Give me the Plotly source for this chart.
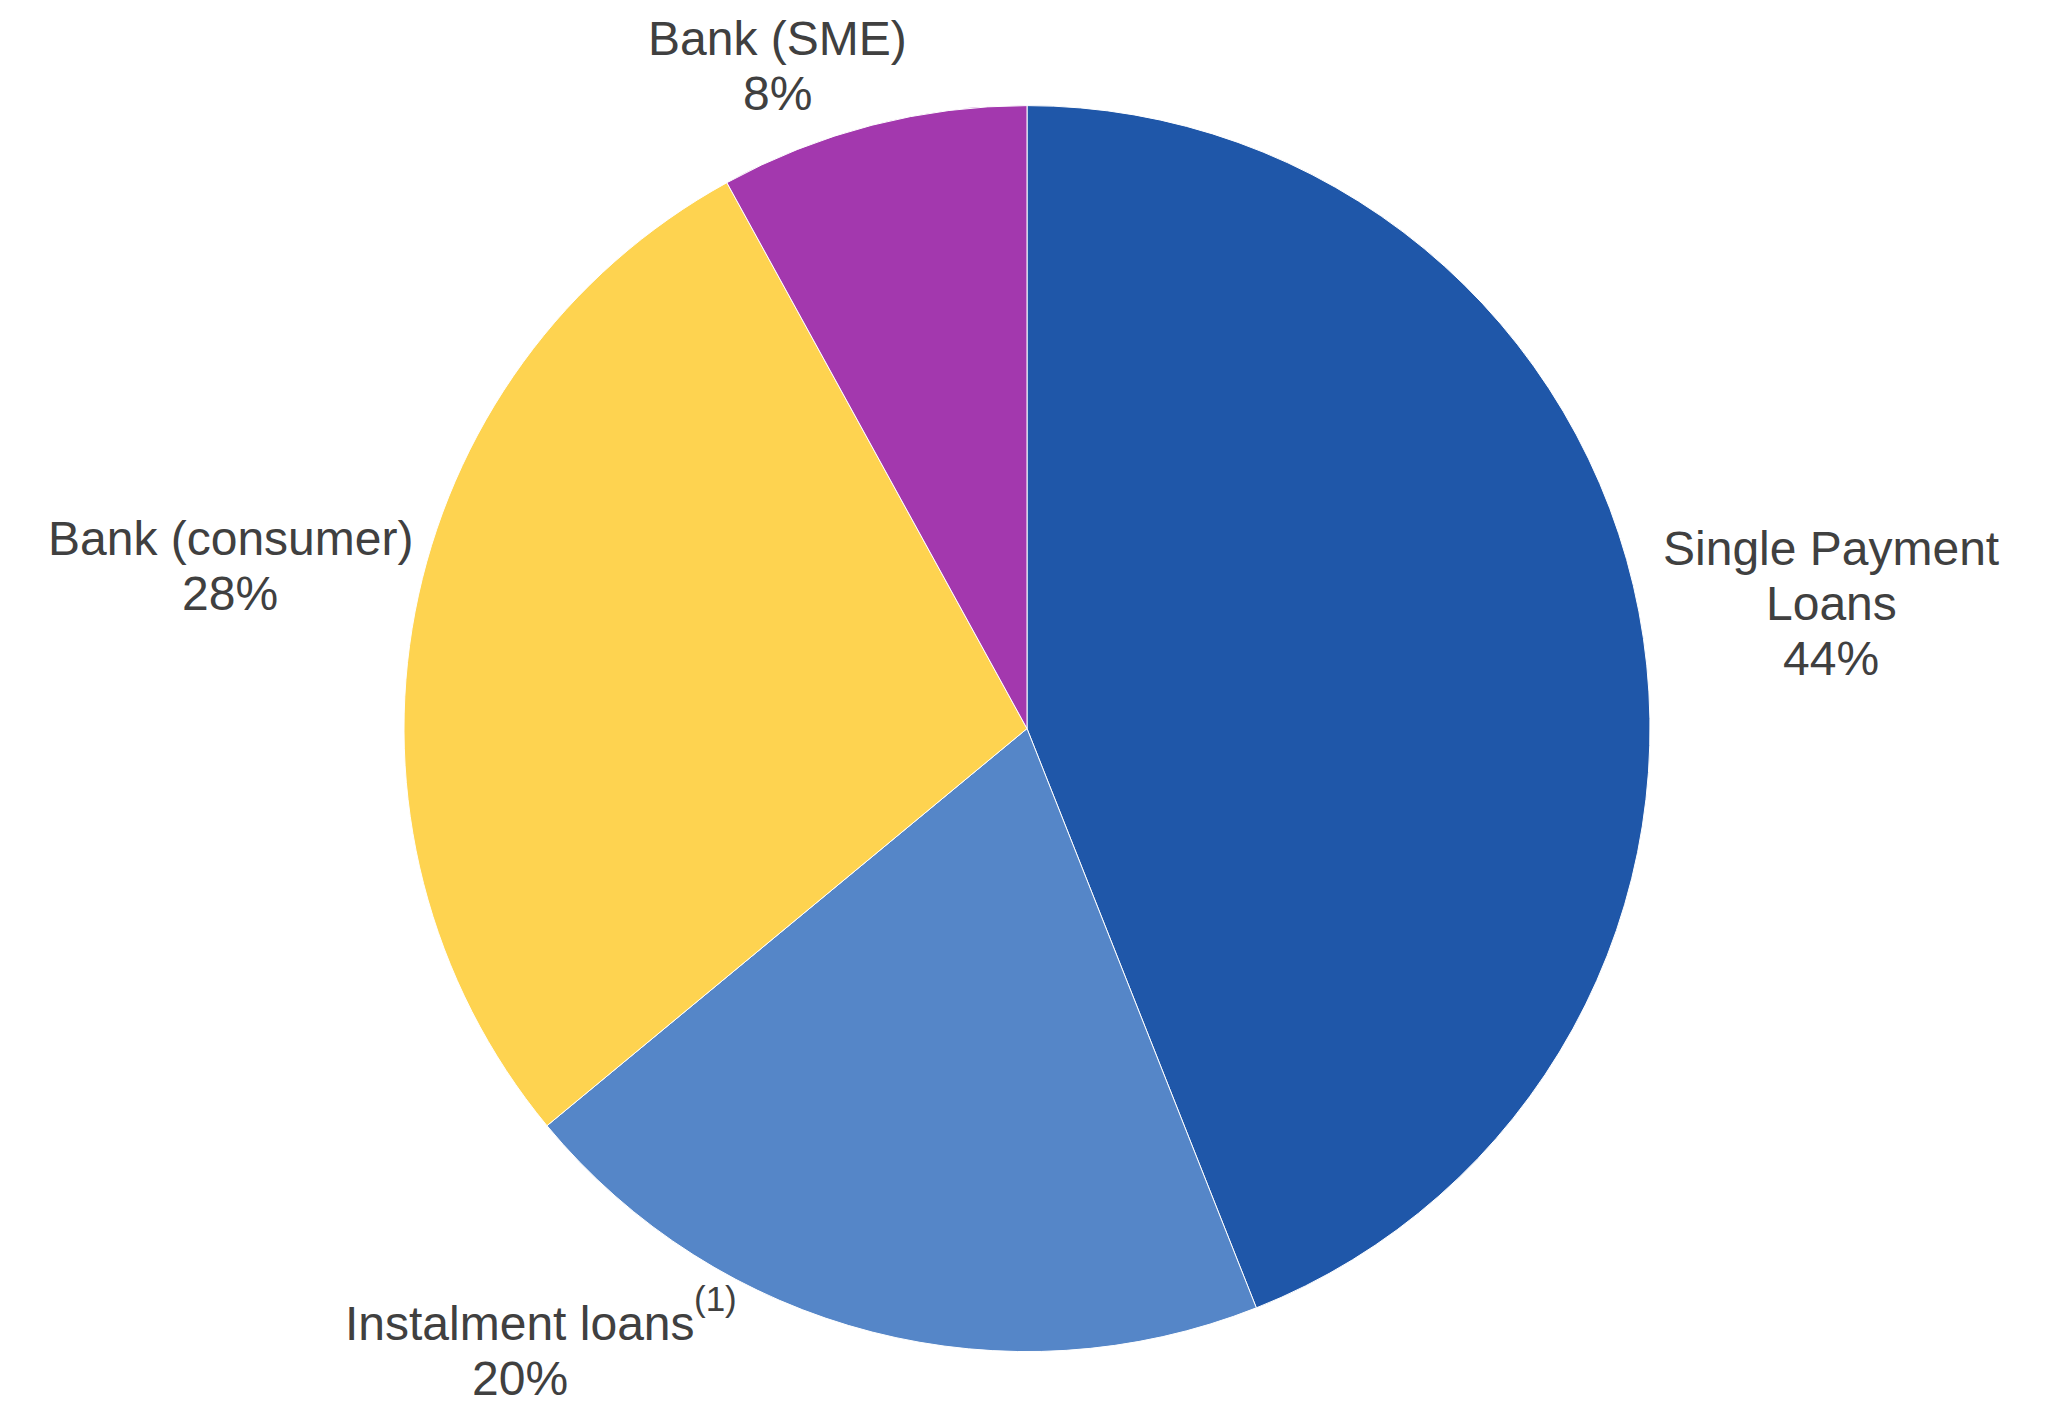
import plotly.graph_objects as go

# Data
labels = ["Single Payment<br>Loans", "Instalment loans", "Bank (consumer)", "Bank (SME)"]
footnotes = ["", "(1)", "", ""]
values = [44, 20, 28, 8]
colors = ["#1F57A9", "#5586C8", "#FED350", "#A338AE"]

W, H = 2064, 1405
FONT = "Liberation Sans, Arial, sans-serif"
TXT = "#404040"
FS = 48
LINE = 55

fig = go.Figure(go.Pie(
    labels=[l.replace("<br>", " ") for l in labels],
    values=values,
    sort=False,
    direction="clockwise",
    rotation=0,
    marker=dict(colors=colors, line=dict(color="white", width=1)),
    textinfo="none",
    hoverinfo="label+percent",
    domain=dict(x=[404 / W, 1650 / W], y=[1 - 1351.6 / H, 1 - 105.6 / H]),
    showlegend=False,
))

# label placement (center x, first baseline y) in pixels
label_pos = [(1831, 565), (520, 1340), (230, 555), (777, 55)]

annotations = []
for lab, fn, val, (cx, by) in zip(labels, footnotes, values, label_pos):
    lines = lab.split("<br>") + [f"{val}%"]
    for i, ln in enumerate(lines):
        base = by + i * LINE
        annotations.append(dict(
            text=ln, x=cx / W, y=1 - (base - 0.3465 * FS) / H,
            xref="paper", yref="paper", xanchor="center", yanchor="middle",
            showarrow=False, font=dict(family=FONT, size=FS, color=TXT),
        ))
    if fn:
        annotations.append(dict(
            text=fn, x=692 / W, y=1 - 1298 / H,
            xref="paper", yref="paper", xanchor="left", yanchor="middle",
            showarrow=False, font=dict(family=FONT, size=35, color=TXT),
        ))

fig.update_layout(
    width=W, height=H,
    margin=dict(l=0, r=0, t=0, b=0),
    paper_bgcolor="white", plot_bgcolor="white",
    annotations=annotations,
)

fig.write_html("out.html")
